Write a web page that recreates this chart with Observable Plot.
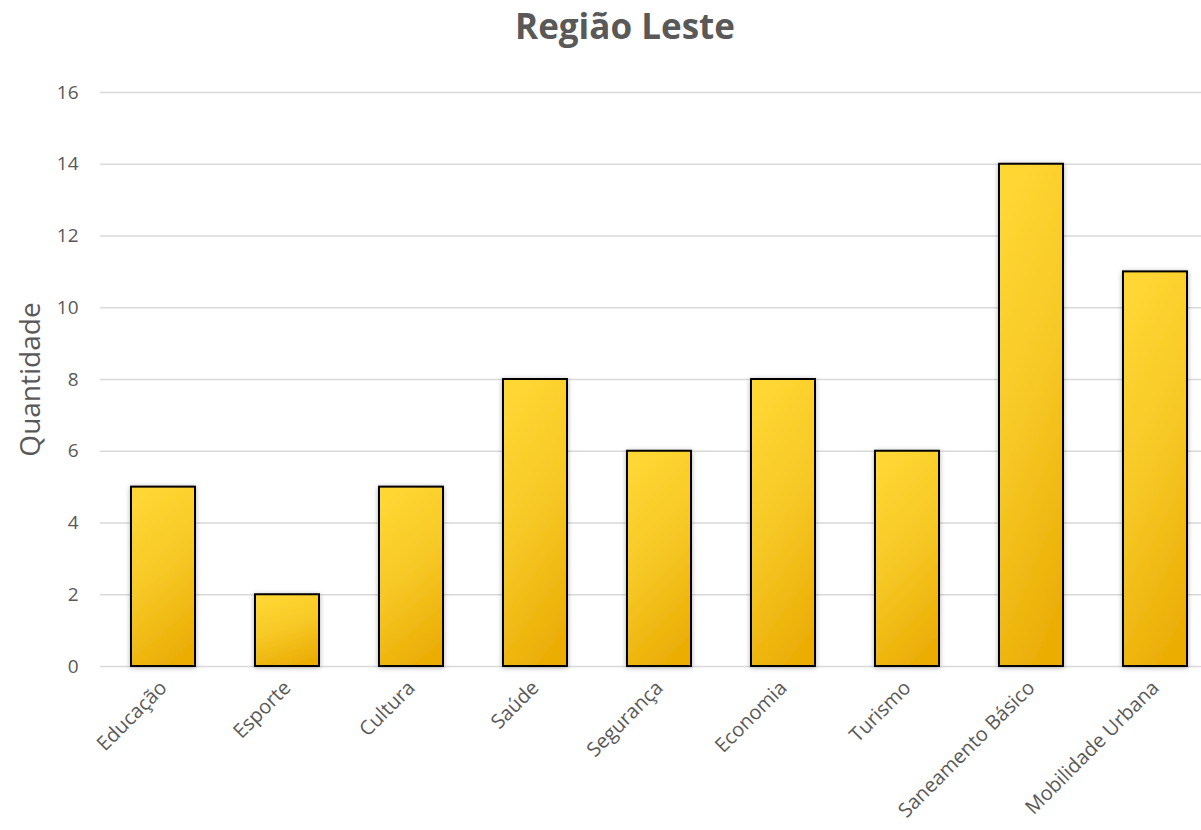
<!DOCTYPE html>
<html>
<head>
<meta charset="utf-8">
<script src="https://cdn.jsdelivr.net/npm/d3@7"></script>
<script src="https://cdn.jsdelivr.net/npm/@observablehq/plot@0.6"></script>
<style>
  html, body { margin: 0; padding: 0; background: #fff; overflow: hidden; }
  #title { height: 55px; width: 1250px; text-align: center; font-family: "Open Sans", Lato, sans-serif; font-weight: bold; font-size: 35px; color: #595959; line-height: 52px; }
  #chart svg { display: block; }
</style>
</head>
<body>
<div id="title">Região Leste</div>
<div id="chart"></div>
<script>
const categories = ["Educação", "Esporte", "Cultura", "Saúde", "Segurança", "Economia", "Turismo", "Saneamento Básico", "Mobilidade Urbana"];
const values = [5, 2, 5, 8, 6, 8, 6, 14, 11];
const yTicks = [0, 2, 4, 6, 8, 10, 12, 14, 16];

const data = categories.map((c, i) => ({category: c, value: values[i]}));

const defs = () => {
  const g = d3.create("svg:g");
  const d = g.append("defs");
  const lg = d.append("linearGradient").attr("id", "barGrad")
    .attr("x1", 0.35).attr("y1", 0).attr("x2", 0.65).attr("y2", 1);
  lg.append("stop").attr("offset", "0%").attr("stop-color", "#FFD632");
  lg.append("stop").attr("offset", "45%").attr("stop-color", "#F7C927");
  lg.append("stop").attr("offset", "100%").attr("stop-color", "#EBAD04");
  const f = d.append("filter").attr("id", "shadow").attr("x", "-20%").attr("y", "-10%").attr("width", "140%").attr("height", "120%");
  f.append("feDropShadow").attr("dx", 0).attr("dy", 1).attr("stdDeviation", 2.5).attr("flood-color", "#000").attr("flood-opacity", 0.3);
  return g.node();
};

const chart = Plot.plot({
  width: 1201,
  height: 775,
  marginTop: 37,
  marginBottom: 164,
  marginLeft: 100,
  marginRight: 0,
  style: {fontFamily: "'Open Sans', Lato, sans-serif", fontSize: "20px", color: "#595959", overflow: "hidden"},
  x: {domain: categories, range: [100, 1218], paddingInner: 0.48, paddingOuter: 0.24, align: 0.5},
  y: {domain: [0, 16]},
  marks: [
    defs,
    Plot.gridY(yTicks, {stroke: "#D9D9D9", strokeOpacity: 1, strokeWidth: 1.5}),
    Plot.barY(data, {x: "category", y: "value", fill: "url(#barGrad)", stroke: "#000", strokeWidth: 2, render: (i, s, v, d, c, next) => { const n = next(i, s, v, d, c); n.setAttribute("filter", "url(#shadow)"); return n; }}),
    Plot.axisY(yTicks, {tickSize: 0, tickPadding: 22, fill: "#595959", fontSize: 19, label: "Quantidade", labelAnchor: "center", labelArrow: "none", labelOffset: 80}),
    Plot.axisX({tickSize: 0, tickPadding: 18, tickRotate: -45, fill: "#595959", fontSize: 20, label: null})
  ]
});
document.getElementById("chart").appendChild(chart);
chart.querySelectorAll("[aria-label='y-axis label'] text").forEach(t => { t.setAttribute("font-size", "28"); t.setAttribute("fill", "#595959"); });
</script>
</body>
</html>
